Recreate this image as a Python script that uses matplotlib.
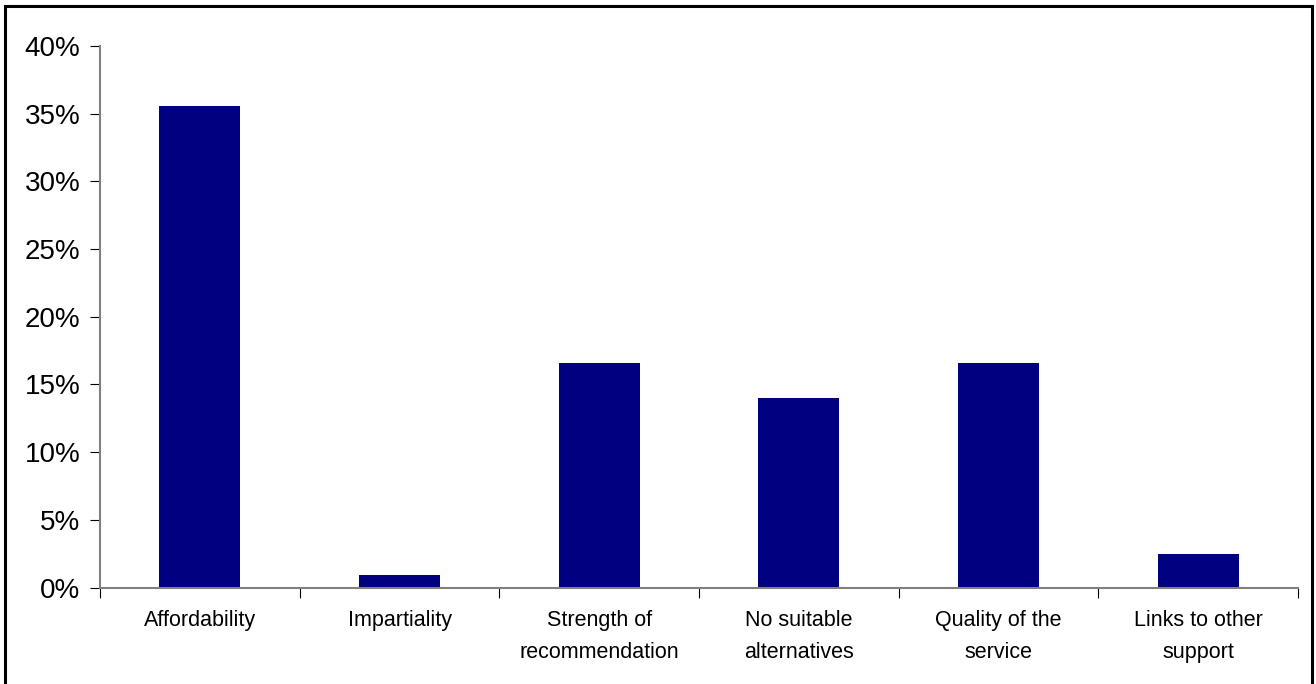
import matplotlib
matplotlib.use("Agg")
import matplotlib.pyplot as plt
from matplotlib.patches import Rectangle
from matplotlib.ticker import FuncFormatter

plt.rcParams['font.family'] = ['Liberation Sans', 'DejaVu Sans']

# reasons given (share of respondents)
categories = ["Affordability", "Impartiality", "Strength of\nrecommendation",
              "No suitable\nalternatives", "Quality of the\nservice", "Links to other\nsupport"]
shares = [0.356, 0.009, 0.166, 0.140, 0.166, 0.025]

fig = plt.figure(figsize=(13.16, 6.84), dpi=100)
ax = fig.add_axes([100 / 1316, 1 - 587.5 / 684, 1198 / 1316, 541.5 / 684])

x = list(range(len(categories)))
ax.bar(x, shares, width=0.405, color="#000080", zorder=2)

ax.set_xlim(-0.5, len(categories) - 0.5)
ax.set_ylim(0, 0.40)
ax.set_yticks([i * 0.05 for i in range(9)])
ax.yaxis.set_major_formatter(FuncFormatter(lambda v, p: f"{v * 100:.0f}%"))

# category labels sit between boundary ticks
ax.set_xticks([i - 0.5 for i in range(len(categories) + 1)])
ax.set_xticklabels([])
ax.set_xticks(x, minor=True)
ax.set_xticklabels(categories, minor=True, fontsize=15.5, linespacing=1.7)
ax.tick_params(axis="x", which="minor", length=0, pad=16)
ax.tick_params(axis="x", which="major", length=7, direction="out", color="black")
ax.tick_params(axis="y", length=7, direction="out", pad=7, labelsize=20, color="black")

for side in ("top", "right"):
    ax.spines[side].set_visible(False)
for side in ("left", "bottom"):
    ax.spines[side].set_color("#808080")
    ax.spines[side].set_linewidth(1.5)

# frame round the whole chart (bottom edge runs off the canvas)
fig.patches.append(Rectangle((5 / 1316, -10 / 684), 1307 / 1316, 688 / 684,
                             transform=fig.transFigure, fill=False,
                             edgecolor="black", linewidth=2.2))

fig.savefig("out.png", dpi=100)
